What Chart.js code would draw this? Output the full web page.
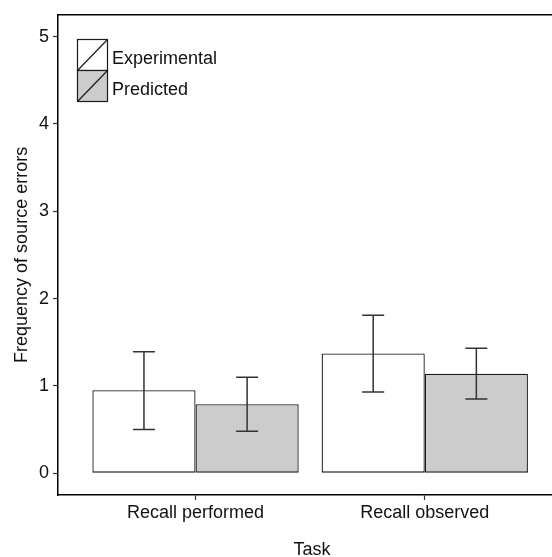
<!DOCTYPE html>
<html><head><meta charset="utf-8">
<script src="https://cdn.jsdelivr.net/npm/chart.js@4"></script>
<style>html,body{margin:0;padding:0;background:#fff}#wrap{width:552px;height:557px}</style>
</head><body><div id="wrap"><canvas id="c" width="552" height="557"></canvas></div>
<script>
const categories = ['Recall performed', 'Recall observed'];
const categoryPositions = [1, 2];
const seriesNames = ['Experimental', 'Predicted'];
const experimental = [0.95, 1.37];
const experimentalLow = [0.50, 0.93];
const experimentalHigh = [1.39, 1.81];
const predicted = [0.79, 1.14];
const predictedLow = [0.48, 0.85];
const predictedHigh = [1.10, 1.43];
const yTicks = [0, 1, 2, 3, 4, 5];
const xTitle = 'Task';
const yTitle = 'Frequency of source errors';

const FONT = '"Liberation Sans", Arial, Helvetica, sans-serif';
Chart.defaults.font.family = FONT;

const errorData = [
  {low: experimentalLow, high: experimentalHigh},
  {low: predictedLow, high: predictedHigh}
];
const fills = ['#ffffff', '#cccccc'];

const decor = {
  id: 'decor',
  afterDatasetsDraw(chart) {
    const ctx = chart.ctx;
    const ys = chart.scales.y;
    ctx.save();
    ctx.strokeStyle = '#333333';
    ctx.lineWidth = 1.5;
    errorData.forEach((e, d) => {
      const meta = chart.getDatasetMeta(d);
      meta.data.forEach((bar, i) => {
        const x = bar.x;
        const yl = ys.getPixelForValue(e.low[i]);
        const yh = ys.getPixelForValue(e.high[i]);
        ctx.beginPath();
        ctx.moveTo(x, yl); ctx.lineTo(x, yh);
        ctx.moveTo(x - 11, yl); ctx.lineTo(x + 11, yl);
        ctx.moveTo(x - 11, yh); ctx.lineTo(x + 11, yh);
        ctx.stroke();
      });
    });
    ctx.restore();
  },
  afterDraw(chart) {
    const ctx = chart.ctx;
    const a = chart.chartArea;
    ctx.save();
    ctx.strokeStyle = '#000';
    ctx.lineWidth = 1.5;
    ctx.beginPath();
    ctx.moveTo(a.left - 0.75, a.top);
    ctx.lineTo(a.right, a.top);
    ctx.stroke();
    const lx = 77.5, lw = 30, lh = 31, ly = 39.5;
    seriesNames.forEach((name, k) => {
      const y0 = ly + k * lh;
      ctx.fillStyle = fills[k];
      ctx.fillRect(lx, y0, lw, lh);
      ctx.strokeStyle = '#1a1a1a';
      ctx.lineWidth = 1.2;
      ctx.strokeRect(lx, y0, lw, lh);
      ctx.beginPath();
      ctx.moveTo(lx, y0 + lh);
      ctx.lineTo(lx + lw, y0);
      ctx.stroke();
      ctx.fillStyle = '#111';
      ctx.font = '18px ' + FONT;
      ctx.textAlign = 'left';
      ctx.textBaseline = 'alphabetic';
      ctx.fillText(name, 112, y0 + 24);
    });
    ctx.fillStyle = '#111';
    ctx.font = '18px ' + FONT;
    ctx.textAlign = 'center';
    ctx.textBaseline = 'alphabetic';
    ctx.fillText(xTitle, 312, 554.5);
    ctx.translate(26.5, (a.top + a.bottom) / 2);
    ctx.rotate(-Math.PI / 2);
    ctx.fillText(yTitle, 0, 0);
    ctx.restore();
  }
};

new Chart(document.getElementById('c'), {
  type: 'bar',
  data: {
    datasets: [
      {
        label: seriesNames[0],
        data: categoryPositions.map((x, i) => ({x: x, y: experimental[i]})),
        backgroundColor: fills[0],
        borderColor: '#1a1a1a',
        borderWidth: 1.3,
        borderSkipped: false,
        categoryPercentage: 0.9,
        barPercentage: 1.0
      },
      {
        label: seriesNames[1],
        data: categoryPositions.map((x, i) => ({x: x, y: predicted[i]})),
        backgroundColor: fills[1],
        borderColor: '#1a1a1a',
        borderWidth: 1.3,
        borderSkipped: false,
        categoryPercentage: 0.9,
        barPercentage: 1.0
      }
    ]
  },
  options: {
    responsive: false,
    animation: false,
    devicePixelRatio: 1,
    layout: {padding: {top: 14, right: 0, left: 0, bottom: 0}},
    plugins: {legend: {display: false}, tooltip: {enabled: false}},
    scales: {
      x: {
        type: 'linear',
        offset: false,
        min: 0.4,
        max: 2.555,
        afterBuildTicks: s => { s.ticks = categoryPositions.map(v => ({value: v})); },
        afterFit: s => { s.height = 62; },
        ticks: {
          callback: v => categories[categoryPositions.indexOf(v)],
          font: {size: 18, family: FONT},
          color: '#111',
          padding: 2,
          maxRotation: 0,
          autoSkip: false
        },
        grid: {offset: false, drawOnChartArea: false, drawTicks: true, tickLength: 5, tickColor: '#333', tickWidth: 1.2},
        border: {display: true, color: '#000', width: 1.5}
      },
      y: {
        type: 'linear',
        min: -0.25,
        max: 5.25,
        afterBuildTicks: s => { s.ticks = yTicks.map(v => ({value: v})); },
        afterFit: s => { s.width = 58; },
        ticks: {
          callback: v => String(v),
          font: {size: 18, family: FONT},
          color: '#111',
          padding: 4
        },
        grid: {drawOnChartArea: false, drawTicks: true, tickLength: 5, tickColor: '#333', tickWidth: 1.2},
        border: {display: true, color: '#000', width: 1.5}
      }
    }
  },
  plugins: [decor]
});
</script>
</body></html>
